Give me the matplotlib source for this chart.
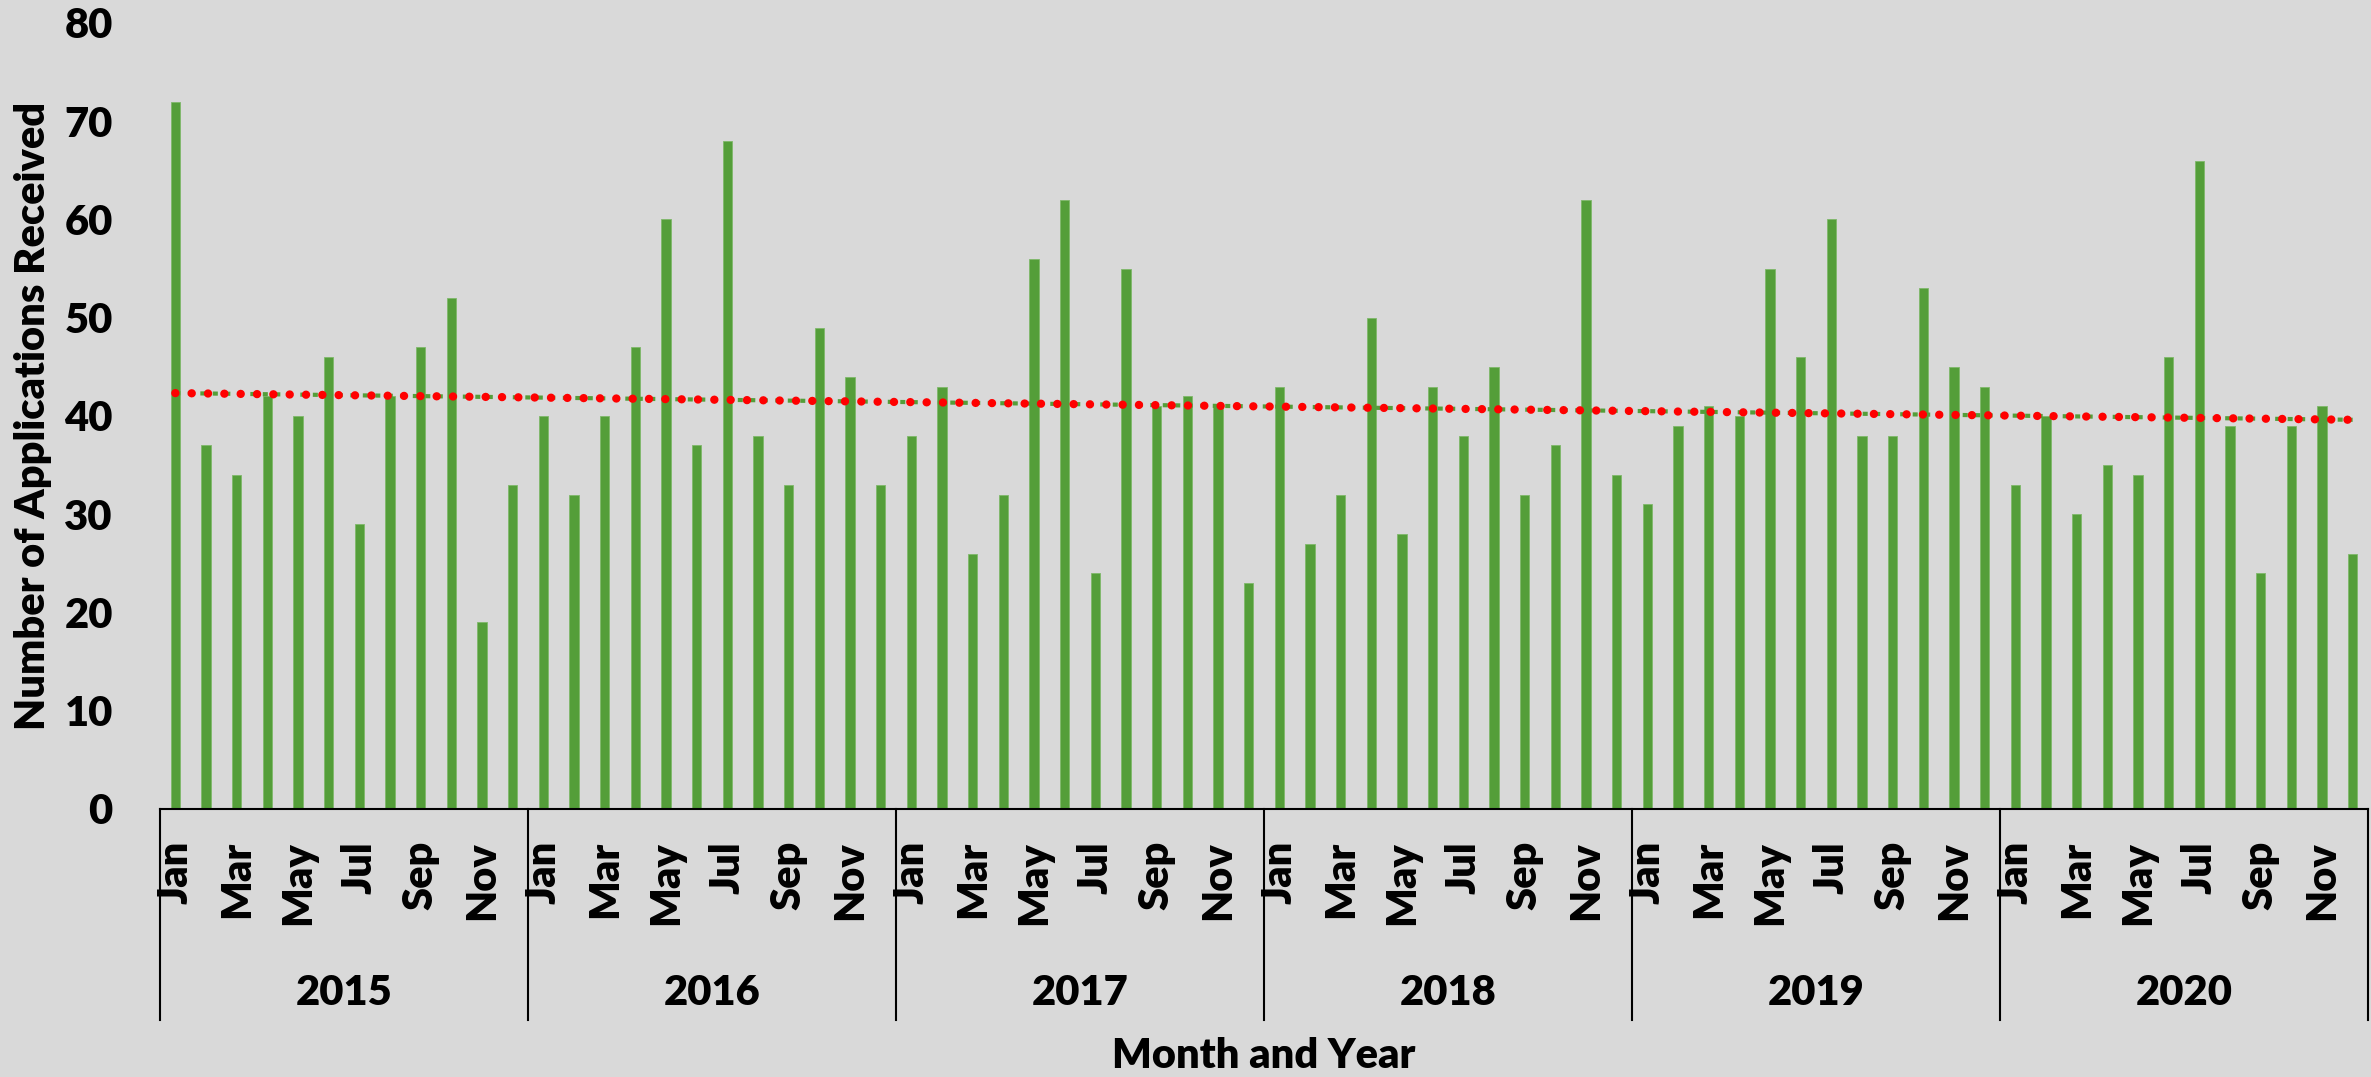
import matplotlib.pyplot as plt
import numpy as np
from matplotlib import rcParams
from matplotlib.transforms import blended_transform_factory

config = {"font.family": ['Lato', 'DejaVu Sans'], "font.size": 30,
          "font.weight": 'heavy'}
rcParams.update(config)

# monthly applications received, Jan 2015 .. Dec 2020
years = ['2015', '2016', '2017', '2018', '2019', '2020']
months = ['Jan', 'Feb', 'Mar', 'Apr', 'May', 'Jun',
          'Jul', 'Aug', 'Sep', 'Oct', 'Nov', 'Dec']
apps_2015 = [72, 37, 34, 42, 40, 46, 29, 42, 47, 52, 19, 33]
apps_2016 = [40, 32, 40, 47, 60, 37, 68, 38, 33, 49, 44, 33]
apps_2017 = [38, 43, 26, 32, 56, 62, 24, 55, 41, 42, 41, 23]
apps_2018 = [43, 27, 32, 50, 28, 43, 38, 45, 32, 37, 62, 34]
apps_2019 = [31, 39, 41, 40, 55, 46, 60, 38, 38, 53, 45, 43]
apps_2020 = [33, 40, 30, 35, 34, 46, 66, 39, 24, 39, 41, 26]

values = np.array(apps_2015 + apps_2016 + apps_2017 +
                  apps_2018 + apps_2019 + apps_2020)
x = np.arange(len(values))

bg = '#D9D9D9'
green = '#549E39'
fw = 'heavy'

W, H = 2371, 1077
fig = plt.figure(figsize=(W / 100, H / 100), dpi=100, facecolor=bg)
ax = fig.add_axes([160 / W, 1 - 809 / H, (2368 - 160) / W, (809 - 23) / H])
ax.set_facecolor(bg)

ax.bar(x, values, width=0.3, color=green, edgecolor='#7FB86A', linewidth=0.6, zorder=2)

# linear trendline
k, b = np.polyfit(x, values, 1)
trend = k * x + b
ax.plot(x, trend, color=green, lw=3, linestyle=(0, (1.2, 1.8)), zorder=3)
ax.plot(x, trend, color='#FF0000', lw=6, linestyle=(0, (0.01, 1.95)),
        dash_capstyle='round', zorder=4)

ax.set_xlim(-0.5, len(values) - 0.5)
ax.set_ylim(0, 80)
ax.set_yticks(range(0, 81, 10))
ax.tick_params(axis='y', length=0, pad=34, labelsize=30)
for lab in ax.get_yticklabels():
    lab.set_fontweight(fw)

# month level of category axis (every other month)
ax.set_xticks(x[::2])
ax.set_xticklabels([months[i % 12] for i in x[::2]], rotation=90,
                   va='top', ha='center', fontsize=30, fontweight=fw)
ax.tick_params(axis='x', length=0, pad=23)

for s in ['top', 'right', 'left']:
    ax.spines[s].set_visible(False)
ax.spines['bottom'].set_color('black')
ax.spines['bottom'].set_linewidth(1.5)

# year level with separators
tr = blended_transform_factory(ax.transData, ax.transAxes)
sep_bottom = -(1020 - 809) / (809 - 23)
for i in range(len(years) + 1):
    ax.plot([i * 12 - 0.5, i * 12 - 0.5], [0, sep_bottom], color='black',
            lw=1.5, transform=tr, clip_on=False)
for i, yr in enumerate(years):
    ax.text(i * 12 + 5.5, -(993 - 809) / (809 - 23), yr, transform=tr,
            ha='center', va='center', fontsize=30, fontweight=fw)

fig.text((160 + 2368) / 2 / W, 1 - 1056 / H, 'Month and Year',
         ha='center', va='center', fontsize=30, fontweight=fw)
fig.text(33 / W, 1 - 416 / H, 'Number of Applications Received', rotation=90,
         ha='center', va='center', fontsize=30, fontweight=fw)

fig.savefig('out.png', dpi=100, facecolor=bg)
